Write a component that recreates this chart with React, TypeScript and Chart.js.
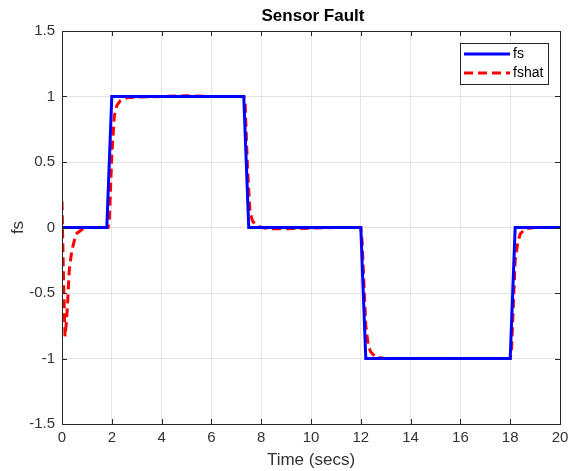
import React, { useEffect, useRef } from "react";
import { Chart, registerables } from "chart.js";

Chart.register(...registerables);

const chartTitle = "Sensor Fault";
const xLabel = "Time (secs)";
const yLabel = "fs";
const seriesNames = ["fs", "fshat"];

const fsTime = [0, 1.8, 2.0, 7.3, 7.5, 12.0, 12.2, 18.0, 18.2, 20];
const fsValue = [0, 0, 1, 1, 0, 0, -1, -1, 0, 0];

const fshatTime = [
  0, 0.05, 0.12, 0.18, 0.23, 0.29, 0.39, 0.56, 0.8, 1.05, 1.85,
  1.9, 2.0, 2.1, 2.2, 2.35, 2.6, 3.0, 4.0, 5.0, 6.0, 7.3,
  7.35, 7.45, 7.55, 7.65, 7.8, 8.0, 8.5, 9.0, 10.0, 11.0, 12.0,
  12.05, 12.2, 12.3, 12.4, 12.6, 13.0, 14.0, 16.0, 18.0,
  18.05, 18.2, 18.3, 18.4, 18.6, 19.0, 20,
];
const fshatValue = [
  0.2, -0.3, -0.83, -0.72, -0.56, -0.33, -0.18, -0.05, -0.015, 0, 0,
  0.05, 0.55, 0.85, 0.93, 0.97, 0.99, 0.995, 1.0, 1.005, 1.0, 1.0,
  0.97, 0.45, 0.12, 0.05, 0.015, 0, -0.01, -0.01, -0.005, 0, 0,
  -0.1, -0.75, -0.9, -0.95, -0.99, -1.0, -1.0, -1.0, -1.0,
  -0.95, -0.25, -0.12, -0.05, -0.01, 0, 0,
];

const xTicks = [0, 2, 4, 6, 8, 10, 12, 14, 16, 18, 20];
const yTicks = [-1.5, -1, -0.5, 0, 0.5, 1, 1.5];

const FONT = "'Liberation Sans', Arial, Helvetica, sans-serif";
const AXIS_COLOR = "#262626";
const TEXT_COLOR = "#333333";

const decorPlugin = {
  id: "decor",
  afterDraw(chart: any) {
    const { ctx, chartArea } = chart;
    const { left, right, top, bottom } = chartArea;
    const xs = chart.scales.x;
    const ys = chart.scales.y;
    ctx.save();
    ctx.strokeStyle = AXIS_COLOR;
    ctx.lineWidth = 1;
    ctx.strokeRect(Math.round(left) + 0.5, Math.round(top) + 0.5, Math.round(right - left), Math.round(bottom - top));
    const tl = 5;
    ctx.beginPath();
    xTicks.forEach((v) => {
      const px = Math.round(xs.getPixelForValue(v)) + 0.5;
      ctx.moveTo(px, bottom);
      ctx.lineTo(px, bottom - tl);
      ctx.moveTo(px, top);
      ctx.lineTo(px, top + tl);
    });
    yTicks.forEach((v) => {
      const py = Math.round(ys.getPixelForValue(v)) + 0.5;
      ctx.moveTo(left, py);
      ctx.lineTo(left + tl, py);
      ctx.moveTo(right, py);
      ctx.lineTo(right - tl, py);
    });
    ctx.stroke();

    ctx.fillStyle = "#000";
    ctx.font = `bold 17px ${FONT}`;
    ctx.textAlign = "center";
    ctx.textBaseline = "middle";
    ctx.fillText(chartTitle, (left + right) / 2 + 2, 16);

    const lx = 460, ly = 43, lw = 88, lh = 41;
    ctx.fillStyle = "#fff";
    ctx.fillRect(lx, ly, lw, lh);
    ctx.strokeStyle = AXIS_COLOR;
    ctx.strokeRect(lx + 0.5, ly + 0.5, lw, lh);
    const rows = [
      { y: 54, color: "#0000ff", dash: [] as number[] },
      { y: 73, color: "#ff0000", dash: [9, 5] },
    ];
    rows.forEach((r, i) => {
      ctx.beginPath();
      ctx.strokeStyle = r.color;
      ctx.lineWidth = 3;
      ctx.setLineDash(r.dash);
      ctx.moveTo(464, r.y);
      ctx.lineTo(510, r.y);
      ctx.stroke();
      ctx.setLineDash([]);
      ctx.fillStyle = "#000";
      ctx.font = `14px ${FONT}`;
      ctx.textAlign = "left";
      ctx.textBaseline = "middle";
      ctx.fillText(seriesNames[i], 513, r.y);
    });
    ctx.restore();
  },
};

export default function App() {
  const ref = useRef<HTMLCanvasElement | null>(null);
  useEffect(() => {
    if (!ref.current) return;
    const chart = new Chart(ref.current, {
      type: "line",
      data: {
        datasets: [
          {
            label: seriesNames[0],
            data: fsTime.map((t, i) => ({ x: t, y: fsValue[i] })),
            borderColor: "#0000ff",
            borderWidth: 3,
            pointRadius: 0,
            tension: 0,
            fill: false,
          },
          {
            label: seriesNames[1],
            data: fshatTime.map((t, i) => ({ x: t, y: fshatValue[i] })),
            borderColor: "#ff0000",
            borderWidth: 3,
            borderDash: [9, 5],
            pointRadius: 0,
            tension: 0,
            fill: false,
          },
        ],
      },
      options: {
        responsive: false,
        animation: false,
        devicePixelRatio: 1,
        layout: { padding: { top: 31, right: 9, left: 0, bottom: 0 } },
        plugins: {
          legend: { display: false },
          title: { display: false },
          tooltip: { enabled: false },
        },
        scales: {
          x: {
            type: "linear",
            min: 0,
            max: 20,
            afterBuildTicks: (s: any) => {
              s.ticks = xTicks.map((v) => ({ value: v }));
            },
            afterFit: (s: any) => {
              s.height = 47;
              s.paddingLeft = 0;
              s.paddingRight = 0;
            },
            grid: { color: "#e3e3e3", drawTicks: false, lineWidth: 1 },
            border: { display: false },
            ticks: {
              color: TEXT_COLOR,
              font: { family: FONT, size: 15 },
              padding: 5,
              maxRotation: 0,
              autoSkip: false,
            },
            title: {
              display: true,
              text: xLabel,
              color: TEXT_COLOR,
              font: { family: FONT, size: 17 },
              padding: { top: 0, bottom: 0 },
            },
          },
          y: {
            type: "linear",
            min: -1.5,
            max: 1.5,
            afterBuildTicks: (s: any) => {
              s.ticks = yTicks.map((v) => ({ value: v }));
            },
            afterFit: (s: any) => {
              s.width = 62;
              s.paddingTop = 0;
              s.paddingBottom = 0;
            },
            grid: { color: "#e3e3e3", drawTicks: false, lineWidth: 1 },
            border: { display: false },
            ticks: {
              color: TEXT_COLOR,
              font: { family: FONT, size: 15 },
              padding: 7,
              autoSkip: false,
              callback: (v: any) => String(v),
            },
            title: {
              display: true,
              text: yLabel,
              color: TEXT_COLOR,
              font: { family: FONT, size: 17 },
              padding: { top: 8, bottom: 0 },
            },
          },
        },
      },
      plugins: [decorPlugin],
    });
    return () => chart.destroy();
  }, []);
  return (
    <div style={{ position: "absolute", left: 0, top: 0, width: 569, height: 471, background: "#fff" }}>
      <canvas ref={ref} width={569} height={471} />
    </div>
  );
}
